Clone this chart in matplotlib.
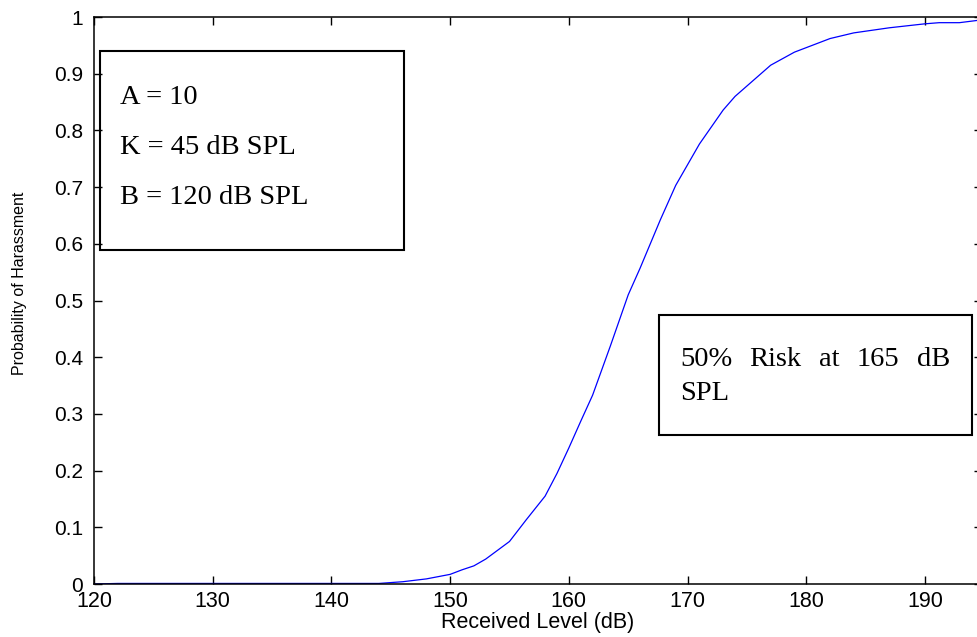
import numpy as np
import matplotlib
matplotlib.use("Agg")
import matplotlib.pyplot as plt
from matplotlib.patches import Rectangle

# dose-response curve, received level (dB) vs probability
level = [120, 122, 124, 130, 136, 140, 144, 146, 148, 150, 151, 152, 153, 155,
         156.4, 158, 159, 160, 161, 162, 163.5, 165, 166, 167.7, 169, 171,
         173, 174, 177, 179, 182, 184, 187, 190, 191.2, 192.9, 194.8]
prob = [0.0, 0.001, 0.001, 0.001, 0.001, 0.001, 0.001, 0.004, 0.009, 0.017,
        0.025, 0.032, 0.044, 0.075, 0.113, 0.155, 0.195, 0.24, 0.287, 0.333,
        0.42, 0.51, 0.557, 0.642, 0.703, 0.776, 0.836, 0.86, 0.915, 0.938,
        0.962, 0.972, 0.981, 0.988, 0.99, 0.99, 0.995]

params = ["A = 10", "K = 45 dB SPL", "B = 120 dB SPL"]
risk_words = ["50%", "Risk", "at", "165", "dB"]
risk_tail = "SPL"

plt.rcParams['font.family'] = ['Liberation Sans', 'DejaVu Sans']

fig = plt.figure(figsize=(9.77, 6.37), dpi=100)
ax = fig.add_axes([0.0962, 0.0832, 0.9089, 0.8901])

ax.plot(level, prob, '-', color=(0, 0, 1), lw=0.9)
ax.set_xlim(120, 194.8)
ax.set_ylim(0, 1)
ax.set_xticks(np.arange(120, 191, 10))
ax.set_yticks(np.arange(0, 1.01, 0.1))
ax.set_yticklabels(['0'] + ['%g' % v for v in np.arange(0.1, 0.95, 0.1)] + ['1'])
ax.tick_params(direction='in', length=6, width=1, top=True, right=True)
ax.tick_params(axis='x', labelsize=15.5, pad=5)
ax.tick_params(axis='y', labelsize=15, pad=8)
for s in ax.spines.values():
    s.set_linewidth(1.1)

ax.set_xlabel('Received Level (dB)', fontsize=15.5, labelpad=0)
ax.set_ylabel('Probability of Harassment', fontsize=11.5)
ax.yaxis.set_label_coords(-0.0755, 0.531)

# parameter box, upper left
fig.patches.append(Rectangle((0.1024, 0.6075), 0.3112, 0.3124, transform=fig.transFigure,
                             fill=False, ec='black', lw=1.5))
for txt, y in zip(params, [0.8477, 0.7677, 0.6892]):
    fig.text(0.1228, y, txt, family='Liberation Serif', fontsize=20.5, va='center', ha='left')

# risk box, right side (first line justified)
fig.patches.append(Rectangle((0.6745, 0.3171), 0.3204, 0.1884, transform=fig.transFigure,
                             fill=False, ec='black', lw=1.5))
x_left, x_right, y1, y2 = 0.696, 0.9724, 0.4349, 0.383
words = [fig.text(0, y1, w, family='Liberation Serif', fontsize=20.5, va='center', ha='left')
         for w in risk_words]
fig.canvas.draw()
rend = fig.canvas.get_renderer()
widths = [t.get_window_extent(rend).width / fig.bbox.width for t in words]
gap = (x_right - x_left - sum(widths)) / (len(words) - 1)
x = x_left
for t, w in zip(words, widths):
    t.set_x(x)
    x += w + gap
fig.text(x_left, y2, risk_tail, family='Liberation Serif', fontsize=20.5, va='center', ha='left')

fig.savefig('out.png', dpi=100)
